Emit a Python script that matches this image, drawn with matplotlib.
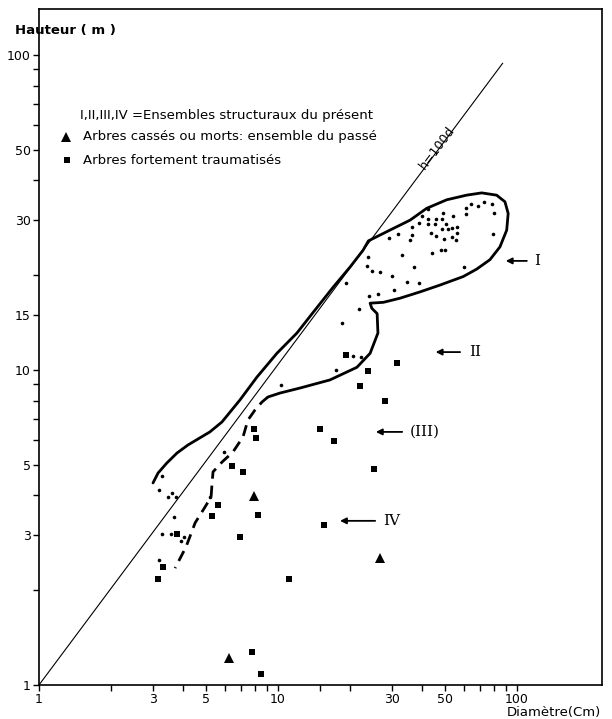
import matplotlib
matplotlib.use("Agg")
import matplotlib.pyplot as plt

# --- data (diametre en cm, hauteur en m) ---
dots_d = [3.27, 3.18, 3.47, 3.60, 3.74, 3.67, 3.27, 3.57, 3.93, 4.04, 3.18, 5.94, 5.19,
          10.3, 17.5, 20.6, 22.2, 18.5, 21.8, 19.3,
          40.2, 42.6, 45.8, 48.9, 53.8, 48.7, 39.0, 42.6, 45.4, 50.3, 36.5, 48.4, 51.6,
          53.6, 55.9, 56.2, 43.5, 45.7, 49.5, 53.3, 55.4, 36.3, 35.7, 31.9, 29.2, 48.1,
          50.0, 44.0, 32.9, 37.1, 23.7, 23.5, 24.7, 26.7, 30.1, 34.6, 38.9, 30.7, 26.1,
          24.0, 64.2, 68.9, 72.6, 78.8, 61.2, 61.2, 80.4, 79.6, 60.2, 42.6]
dots_h = [4.61, 4.16, 3.95, 4.07, 3.95, 3.42, 3.02, 3.02, 2.87, 2.95, 2.49, 5.49, 3.95,
          8.96, 10.0, 11.1, 11.0, 14.1, 15.6, 18.9,
          30.9, 30.1, 30.1, 31.4, 30.9, 30.1, 29.2, 29.0, 29.0, 29.0, 28.5, 28.0, 28.0,
          28.3, 28.4, 27.2, 27.3, 26.6, 26.1, 26.5, 25.9, 26.8, 25.9, 27.0, 26.2, 24.0,
          24.0, 23.6, 23.1, 21.3, 22.9, 21.4, 20.6, 20.4, 19.9, 19.0, 18.9, 18.0, 17.4,
          17.2, 33.6, 33.2, 34.2, 33.7, 32.6, 31.3, 31.4, 27.0, 21.3, 32.4]

# arbres fortement traumatises
trauma_d = [3.15, 3.30, 3.78, 5.30, 5.61, 6.42, 7.14, 7.94, 8.09, 8.25, 6.93, 11.1,
            7.79, 8.49, 15.0, 17.1, 15.6, 19.3, 23.8, 22.0, 28.0, 31.5, 25.2]
trauma_h = [2.17, 2.37, 3.02, 3.44, 3.73, 4.96, 4.75, 6.50, 6.08, 3.46, 2.95, 2.17,
            1.27, 1.08, 6.50, 5.95, 3.22, 11.2, 9.93, 8.90, 7.97, 10.5, 4.85]

# arbres casses ou morts
dead_d = [6.24, 7.94, 26.7]
dead_h = [1.22, 3.98, 2.53]

# contour des ensembles I et II (trait plein)
outline_d = [3.00, 3.15, 3.43, 3.78, 4.20, 5.19, 5.83, 6.93, 8.17, 9.90, 12.0, 14.0,
             17.0, 20.0, 22.7, 23.9, 29.4, 35.7, 41.9, 50.8, 61.6, 71.2, 82.2, 89.1,
             91.9, 90.6, 84.9, 77.1, 67.8, 59.6, 47.6, 39.3, 32.4, 27.6, 24.3, 24.7,
             26.0, 26.2, 24.3, 21.4, 16.5, 12.4, 10.2, 9.08]
outline_h = [4.38, 4.71, 5.07, 5.45, 5.78, 6.36, 6.84, 8.03, 9.50, 11.3, 13.1, 15.2,
             18.3, 21.2, 24.0, 25.7, 27.8, 29.9, 32.6, 34.7, 35.9, 36.5, 35.9, 34.2,
             31.4, 27.8, 24.6, 22.4, 20.9, 19.8, 18.6, 17.7, 16.9, 16.4, 16.3, 15.7,
             15.1, 13.1, 11.3, 10.2, 9.30, 8.77, 8.45, 8.21]

# limite inferieure de II (tirets)
dashed_d = [9.08, 8.57, 8.01, 7.49, 7.14, 6.48, 5.83, 5.35, 5.30, 5.25, 4.86, 4.50, 4.12, 3.71]
dashed_h = [8.21, 7.91, 7.46, 6.94, 6.13, 5.49, 5.10, 4.75, 4.38, 3.95, 3.59, 3.27, 2.74, 2.35]

# droite h = 100 d
line_d = [1, 87.1]
line_h = [1, 94.1]

x_ticks = [1, 3, 5, 10, 30, 50, 100]
x_minor = [2, 4, 6, 7, 8, 9, 15, 20, 40, 60, 70, 80, 90]
y_ticks = [1, 3, 5, 10, 15, 30, 50, 100]
y_minor = [2, 4, 6, 7, 8, 9, 20, 40, 60, 70, 80, 90]

fig = plt.figure(figsize=(6.12, 7.19), dpi=100)
ax = fig.add_axes([0.0637, 0.0473, 0.92, 0.9402])
ax.set_xscale("log")
ax.set_yscale("log")
ax.set_xlim(1, 227)
ax.set_ylim(1, 140)

ax.plot(line_d, line_h, color="black", lw=0.8)
ax.plot(outline_d, outline_h, color="black", lw=2.0, solid_capstyle="round")
ax.plot(dashed_d, dashed_h, color="black", lw=2.0, dashes=(4, 2.5))

ax.plot(dots_d, dots_h, "o", color="black", ms=2.6, mew=0)
ax.plot(trauma_d, trauma_h, "s", color="black", ms=5, mew=0)
ax.plot(dead_d, dead_h, "^", color="black", ms=7, mew=0)

ax.text(46.3, 50.7, "h=100d", rotation=53, rotation_mode="anchor",
        ha="center", va="center", fontsize=9)

# fleches des ensembles
arrow = dict(arrowstyle="-|>", color="black", lw=1.3, mutation_scale=9)
ax.annotate("", xy=(87.4, 22.2), xytext=(113, 22.2), arrowprops=arrow)
ax.text(118, 22.2, "I", family="DejaVu Serif", fontsize=11, va="center")
ax.annotate("", xy=(44.5, 11.4), xytext=(59.4, 11.4), arrowprops=arrow)
ax.text(63, 11.4, "II", family="DejaVu Serif", fontsize=11, va="center")
ax.annotate("", xy=(25.0, 6.36), xytext=(34.0, 6.36), arrowprops=arrow)
ax.text(35.5, 6.36, "(III)", family="DejaVu Serif", fontsize=11, va="center")
ax.annotate("", xy=(17.7, 3.32), xytext=(26.2, 3.32), arrowprops=arrow)
ax.text(27.5, 3.32, "IV", family="DejaVu Serif", fontsize=11, va="center")

# legende
ax.text(0.073, 0.843, "I,II,III,IV =Ensembles structuraux du présent",
        transform=ax.transAxes, fontsize=9.5, va="center")
ax.plot([0.048], [0.8107], "^", color="black", ms=7, mew=0, transform=ax.transAxes)
ax.text(0.078, 0.8107, "Arbres cassés ou morts: ensemble du passé",
        transform=ax.transAxes, fontsize=9.5, va="center")
ax.plot([0.049], [0.7766], "s", color="black", ms=5, mew=0, transform=ax.transAxes)
ax.text(0.078, 0.7766, "Arbres fortement traumatisés",
        transform=ax.transAxes, fontsize=9.5, va="center")

ax.set_xticks(x_ticks)
ax.set_xticklabels([str(v) for v in x_ticks])
ax.set_xticks(x_minor, minor=True)
ax.set_xticklabels([], minor=True)
ax.set_yticks(y_ticks)
ax.set_yticklabels([str(v) for v in y_ticks])
ax.set_yticks(y_minor, minor=True)
ax.set_yticklabels([], minor=True)
ax.tick_params(which="both", direction="out", length=4, width=1, labelsize=9, pad=2)

for s in ax.spines.values():
    s.set_linewidth(1.2)

fig.text(0.0245, 0.958, "Hauteur ( m )", fontsize=9.5, fontweight="bold", va="center")
fig.text(0.982, 0.009, "Diamètre(Cm)", fontsize=9.5, ha="right", va="center")

fig.savefig("out.png", dpi=100)
